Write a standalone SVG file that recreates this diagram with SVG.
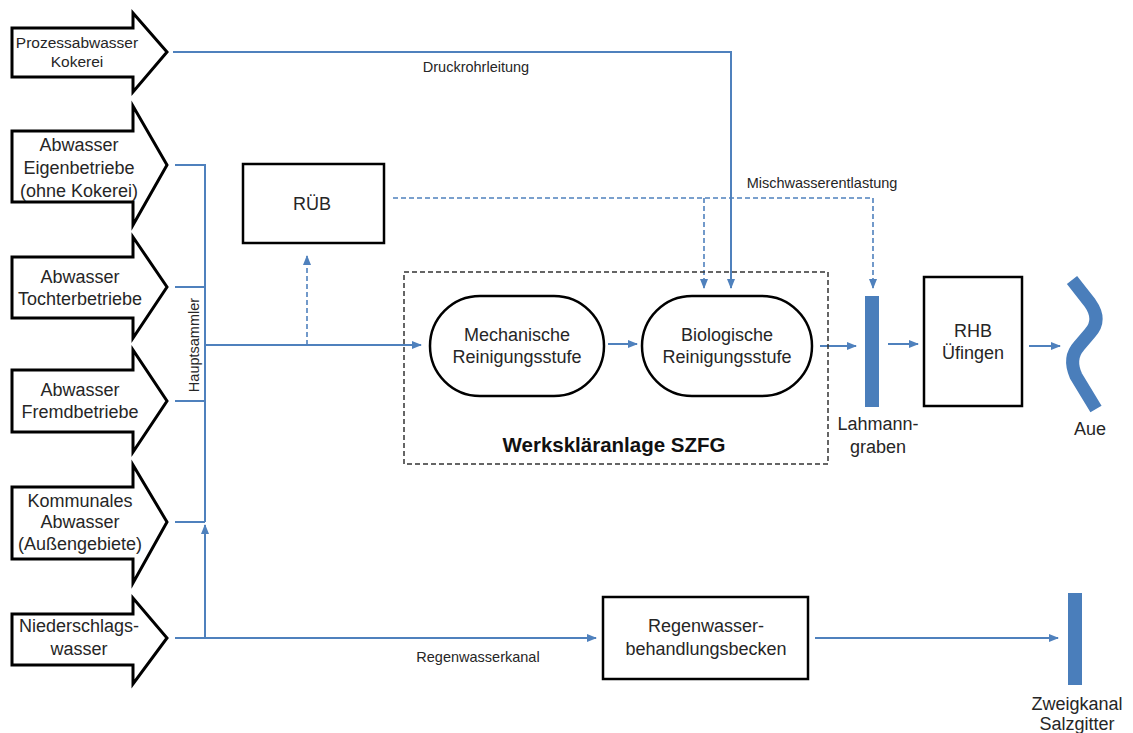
<svg xmlns="http://www.w3.org/2000/svg" width="1133" height="733" viewBox="0 0 1133 733">
<style>
.src{fill:#fff;stroke:#000;stroke-width:3;stroke-linejoin:miter}
.box{fill:#fff;stroke:#000;stroke-width:2.5}
.t{font-family:"Liberation Sans",Arial,sans-serif;font-size:18px;fill:#262626;text-anchor:middle}
.s{font-family:"Liberation Sans",Arial,sans-serif;font-size:14.5px;fill:#262626;text-anchor:middle}
.ln{fill:none;stroke:#4f81bd;stroke-width:2}
.dl{fill:none;stroke:#4f81bd;stroke-width:1.6;stroke-dasharray:5,3}
.bar{fill:#4a7ebb}
</style>
<defs>
<marker id="ah" markerWidth="10" markerHeight="8" refX="9" refY="4" orient="auto" markerUnits="userSpaceOnUse">
<path d="M0,0 L10,4 L0,8 Z" fill="#4f81bd"/>
</marker>
</defs>
<rect width="1133" height="733" fill="#fff"/>

<g id="connectors">
<path class="ln" d="M173,52 H731 V288" marker-end="url(#ah)"/>
<path class="ln" d="M175,165 H205 V522"/>
<path class="ln" d="M175,287 H205"/>
<path class="ln" d="M175,401 H205"/>
<path class="ln" d="M175,522 H205"/>
<path class="ln" d="M205,638 V525" marker-end="url(#ah)"/>
<path class="ln" d="M205,345 H421" marker-end="url(#ah)"/>
<path class="dl" d="M307,345 V256" marker-end="url(#ah)"/>
<path class="dl" d="M393,198 H873 V288" marker-end="url(#ah)"/>
<path class="dl" d="M704,198 V288" marker-end="url(#ah)"/>
<path class="ln" d="M608,344 H637" marker-end="url(#ah)"/>
<path class="ln" d="M820,346 H856" marker-end="url(#ah)"/>
<path class="ln" d="M888,344 H918" marker-end="url(#ah)"/>
<path class="ln" d="M1029,346 H1060" marker-end="url(#ah)"/>
<path class="ln" d="M175,638 H596" marker-end="url(#ah)"/>
<path class="ln" d="M815,638 H1058" marker-end="url(#ah)"/>
<text class="s" x="476" y="72">Druckrohrleitung</text>
<text class="s" x="822" y="188">Mischwasserentlastung</text>
<text class="s" x="478" y="662">Regenwasserkanal</text>
<text class="s" x="0" y="0" transform="translate(199,345) rotate(-90)">Hauptsammler</text>
</g>

<g id="n-prozess">
<path class="src" d="M12,28 H133 V13 L167,52 L133,92 V77 H12 Z"/>
<text class="t" style="font-size:15.5px" x="77" y="48">Prozessabwasser</text>
<text class="t" style="font-size:15.5px" x="77" y="67">Kokerei</text>
</g>
<g id="n-eigen">
<path class="src" d="M12,131 H133 V106 L167,165 L133,225 V202 H12 Z"/>
<text class="t" x="79" y="151">Abwasser</text>
<text class="t" x="79" y="174">Eigenbetriebe</text>
<text class="t" x="79" y="197">(ohne Kokerei)</text>
</g>
<g id="n-tochter">
<path class="src" d="M12,257 H133 V237 L167,287 L133,338 V318 H12 Z"/>
<text class="t" x="80" y="283">Abwasser</text>
<text class="t" x="80" y="305">Tochterbetriebe</text>
</g>
<g id="n-fremd">
<path class="src" d="M12,370 H133 V350 L167,401 L133,452 V432 H12 Z"/>
<text class="t" x="80" y="396">Abwasser</text>
<text class="t" x="80" y="418">Fremdbetriebe</text>
</g>
<g id="n-kommunal">
<path class="src" d="M12,487 H133 V465 L167,522 L133,583 V559 H12 Z"/>
<text class="t" x="80" y="507">Kommunales</text>
<text class="t" x="80" y="528">Abwasser</text>
<text class="t" x="80" y="550">(Außengebiete)</text>
</g>
<g id="n-nieder">
<path class="src" d="M12,614 H133 V598 L167,638 L133,684 V665 H12 Z"/>
<text class="t" x="79" y="632">Niederschlags-</text>
<text class="t" x="79" y="655">wasser</text>
</g>

<g id="n-rueb">
<rect class="box" x="243" y="164" width="141" height="79"/>
<text class="t" x="312" y="210">RÜB</text>
</g>

<g id="n-wka">
<rect x="404" y="272" width="424" height="192" fill="none" stroke="#333" stroke-width="1.5" stroke-dasharray="5,3"/>
<text class="t" x="614" y="452" style="font-weight:bold;font-size:20.5px;fill:#111">Werkskläranlage SZFG</text>
</g>
<g id="n-mech">
<rect class="box" x="430" y="296" width="174" height="100" rx="50" ry="50"/>
<text class="t" x="517" y="341">Mechanische</text>
<text class="t" x="517" y="363">Reinigungsstufe</text>
</g>
<g id="n-bio">
<rect class="box" x="642" y="296" width="170" height="100" rx="50" ry="50"/>
<text class="t" x="727" y="341">Biologische</text>
<text class="t" x="727" y="363">Reinigungsstufe</text>
</g>

<g id="n-lahmann">
<rect class="bar" x="865" y="296" width="14" height="111"/>
<text class="t" x="878" y="430">Lahmann-</text>
<text class="t" x="878" y="453">graben</text>
</g>
<g id="n-rhb">
<rect class="box" x="924" y="277" width="98" height="129"/>
<text class="t" x="973" y="337">RHB</text>
<text class="t" x="973" y="359">Üfingen</text>
</g>
<g id="n-aue">
<path d="M1072,280 L1090,303 Q1102,320 1090,333 L1079,346 Q1068,358 1076,376 L1096,409" fill="none" stroke="#4a7ebb" stroke-width="13"/>
<text class="t" x="1090" y="435">Aue</text>
</g>

<g id="n-rwb">
<rect class="box" x="603" y="597" width="205" height="82"/>
<text class="t" x="706" y="632">Regenwasser-</text>
<text class="t" x="706" y="655">behandlungsbecken</text>
</g>
<g id="n-zweig">
<rect class="bar" x="1068" y="593" width="14" height="92"/>
<text class="t" x="1077" y="710">Zweigkanal</text>
<text class="t" x="1077" y="730">Salzgitter</text>
</g>
</svg>
